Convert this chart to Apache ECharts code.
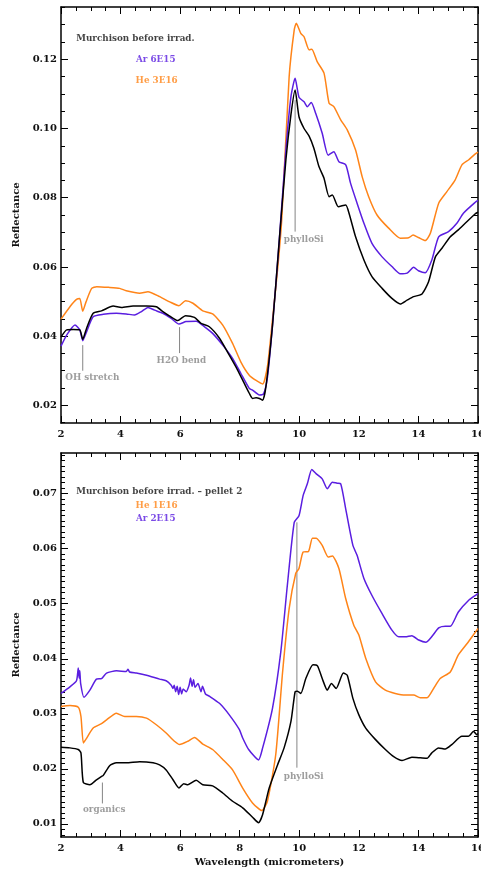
<!DOCTYPE html>
<html>
<head>
<meta charset="utf-8">
<script src="https://cdn.jsdelivr.net/npm/echarts@6/dist/echarts.min.js"></script>
<style>
  html, body { margin: 0; padding: 0; background: #fff; }
  #main { width: 481px; height: 869px; }
</style>
</head>
<body>
<div id="main"></div>
<script>
// ---- top panel: Murchison before irradiation, Ar 6E15, He 3E16 ----
var topBlackWl = [2.0, 2.19, 2.41, 2.63, 2.73, 2.86, 3.08, 3.36, 3.75, 4.03, 4.42, 4.87, 5.2, 5.42, 5.65, 5.92, 6.18, 6.48, 6.7, 6.98, 7.32, 7.65, 7.93, 8.15, 8.32, 8.43, 8.55, 8.66, 8.77, 8.88, 9.1, 9.32, 9.55, 9.72, 9.86, 9.99, 10.16, 10.33, 10.49, 10.66, 10.83, 11.0, 11.11, 11.31, 11.56, 11.67, 11.89, 12.17, 12.44, 12.78, 13.11, 13.39, 13.62, 13.84, 14.12, 14.34, 14.57, 14.79, 15.07, 15.34, 15.57, 15.9, 16.0];
var topBlackR = [0.0397, 0.0418, 0.0419, 0.0418, 0.0391, 0.0423, 0.0466, 0.0473, 0.0487, 0.0483, 0.0487, 0.0487, 0.0485, 0.0471, 0.0458, 0.0445, 0.0459, 0.0454, 0.0437, 0.0427, 0.0394, 0.0345, 0.0302, 0.0264, 0.0235, 0.0220, 0.0222, 0.0220, 0.0215, 0.0254, 0.0430, 0.0668, 0.0909, 0.1040, 0.1111, 0.1034, 0.1000, 0.0978, 0.0943, 0.0890, 0.0856, 0.0803, 0.0808, 0.0774, 0.0779, 0.0755, 0.0687, 0.0620, 0.0572, 0.0538, 0.0509, 0.0493, 0.0504, 0.0514, 0.0522, 0.0557, 0.0629, 0.0654, 0.0687, 0.0707, 0.0726, 0.0753, 0.0758];

var topArWl = [2.0, 2.19, 2.47, 2.63, 2.73, 2.86, 3.08, 3.42, 3.86, 4.19, 4.47, 4.7, 4.92, 5.14, 5.42, 5.7, 5.96, 6.2, 6.54, 6.82, 7.09, 7.43, 7.76, 8.04, 8.32, 8.43, 8.66, 8.8, 8.93, 9.1, 9.32, 9.55, 9.72, 9.86, 9.99, 10.16, 10.27, 10.4, 10.55, 10.77, 10.97, 11.16, 11.33, 11.56, 11.72, 11.94, 12.17, 12.44, 12.78, 13.11, 13.39, 13.62, 13.84, 14.0, 14.23, 14.45, 14.68, 15.01, 15.29, 15.51, 15.9, 16.0];
var topArR = [0.0371, 0.0403, 0.0432, 0.0418, 0.0387, 0.0413, 0.0456, 0.0463, 0.0466, 0.0464, 0.0461, 0.0471, 0.0483, 0.0475, 0.0466, 0.0451, 0.0435, 0.0442, 0.0443, 0.0427, 0.0408, 0.0374, 0.0336, 0.0292, 0.0249, 0.0244, 0.0230, 0.0233, 0.0280, 0.0430, 0.0668, 0.0938, 0.1092, 0.1145, 0.1090, 0.1077, 0.1063, 0.1075, 0.1044, 0.0986, 0.0923, 0.0933, 0.0904, 0.0895, 0.0842, 0.0784, 0.0726, 0.0668, 0.0629, 0.0601, 0.0580, 0.0582, 0.0599, 0.0589, 0.0583, 0.0620, 0.0687, 0.0702, 0.0726, 0.0755, 0.0786, 0.0792];

var topHeWl = [2.0, 2.3, 2.52, 2.63, 2.73, 2.84, 3.03, 3.2, 3.6, 3.97, 4.19, 4.64, 4.92, 5.31, 5.65, 5.96, 6.18, 6.43, 6.76, 7.09, 7.43, 7.76, 8.04, 8.32, 8.55, 8.77, 8.93, 9.1, 9.27, 9.41, 9.66, 9.83, 9.9, 10.05, 10.16, 10.33, 10.42, 10.6, 10.83, 11.0, 11.16, 11.39, 11.61, 11.89, 12.11, 12.33, 12.61, 13.0, 13.39, 13.67, 13.82, 14.0, 14.23, 14.4, 14.68, 14.95, 15.23, 15.46, 15.68, 15.9, 16.0];
var topHeR = [0.0449, 0.0485, 0.0506, 0.0509, 0.0472, 0.0499, 0.0538, 0.0543, 0.0541, 0.0538, 0.0531, 0.0524, 0.0528, 0.0514, 0.0499, 0.0488, 0.0502, 0.0495, 0.0473, 0.0464, 0.0432, 0.0379, 0.0325, 0.0287, 0.0272, 0.0262, 0.0312, 0.0447, 0.0591, 0.0736, 0.1150, 0.1285, 0.1304, 0.1275, 0.1265, 0.1227, 0.1229, 0.1193, 0.1160, 0.1073, 0.1063, 0.1025, 0.0996, 0.0938, 0.0861, 0.0803, 0.0750, 0.0712, 0.0683, 0.0684, 0.0692, 0.0685, 0.0676, 0.0697, 0.0784, 0.0817, 0.0851, 0.0895, 0.0909, 0.0926, 0.0932];

// ---- bottom panel: pellet 2, He 1E16, Ar 2E15 ----
var botBlackWl = [2.0, 2.3, 2.58, 2.67, 2.75, 2.97, 3.19, 3.36, 3.42, 3.64, 3.86, 4.19, 4.64, 5.09, 5.31, 5.53, 5.76, 5.96, 6.12, 6.26, 6.54, 6.76, 7.09, 7.43, 7.76, 8.1, 8.43, 8.63, 8.77, 8.99, 9.27, 9.49, 9.72, 9.86, 9.94, 10.05, 10.22, 10.46, 10.61, 10.77, 10.94, 11.08, 11.24, 11.48, 11.61, 11.8, 12.0, 12.23, 12.56, 12.89, 13.17, 13.45, 13.78, 14.06, 14.29, 14.45, 14.68, 14.9, 15.12, 15.46, 15.68, 15.85, 15.96, 16.0];
var botBlackR = [0.0239, 0.0238, 0.0235, 0.0229, 0.0175, 0.0171, 0.0180, 0.0186, 0.0188, 0.0206, 0.0211, 0.0211, 0.0213, 0.0211, 0.0207, 0.0198, 0.0180, 0.0165, 0.0173, 0.0171, 0.0179, 0.0171, 0.0169, 0.0156, 0.0141, 0.0129, 0.0112, 0.0102, 0.0117, 0.0165, 0.0207, 0.0238, 0.0286, 0.0340, 0.0341, 0.0337, 0.0364, 0.0389, 0.0387, 0.0364, 0.0343, 0.0355, 0.0346, 0.0374, 0.0370, 0.0328, 0.0298, 0.0274, 0.0253, 0.0235, 0.0222, 0.0215, 0.0221, 0.0220, 0.0219, 0.0229, 0.0238, 0.0236, 0.0244, 0.0259, 0.0259, 0.0268, 0.0262, 0.0264];

var botHeWl = [2.0, 2.3, 2.58, 2.67, 2.75, 2.84, 3.08, 3.36, 3.53, 3.86, 4.14, 4.53, 4.87, 5.2, 5.53, 5.81, 5.98, 6.26, 6.48, 6.76, 7.09, 7.43, 7.76, 8.1, 8.43, 8.74, 8.93, 9.21, 9.44, 9.66, 9.88, 9.99, 10.13, 10.31, 10.44, 10.57, 10.77, 10.97, 11.11, 11.33, 11.56, 11.83, 12.0, 12.23, 12.56, 12.89, 13.22, 13.56, 13.84, 14.06, 14.29, 14.51, 14.73, 15.07, 15.34, 15.68, 15.96, 16.0];
var botHeR = [0.0313, 0.0315, 0.0312, 0.0295, 0.0247, 0.0254, 0.0274, 0.0282, 0.0289, 0.0301, 0.0295, 0.0295, 0.0292, 0.0280, 0.0265, 0.0250, 0.0244, 0.0250, 0.0257, 0.0245, 0.0235, 0.0217, 0.0198, 0.0165, 0.0138, 0.0124, 0.0141, 0.0226, 0.0376, 0.0491, 0.0555, 0.0564, 0.0594, 0.0595, 0.0619, 0.0619, 0.0606, 0.0585, 0.0587, 0.0564, 0.0509, 0.0461, 0.0443, 0.0401, 0.0358, 0.0343, 0.0337, 0.0334, 0.0334, 0.0329, 0.0329, 0.0346, 0.0364, 0.0376, 0.0407, 0.0431, 0.0452, 0.0455];

var botArWl = [2.0, 2.3, 2.52, 2.58, 2.61, 2.63, 2.66, 2.77, 2.97, 3.19, 3.36, 3.53, 3.86, 4.19, 4.25, 4.3, 4.53, 4.87, 5.31, 5.53, 5.7, 5.76, 5.8, 5.85, 5.9, 5.95, 6.0, 6.05, 6.1, 6.2, 6.3, 6.35, 6.4, 6.45, 6.5, 6.6, 6.7, 6.75, 6.85, 6.98, 7.32, 7.65, 7.99, 8.1, 8.3, 8.63, 8.77, 9.1, 9.38, 9.6, 9.83, 9.99, 10.13, 10.27, 10.42, 10.57, 10.77, 10.94, 11.11, 11.27, 11.39, 11.56, 11.8, 11.94, 12.17, 12.44, 12.78, 13.11, 13.34, 13.56, 13.78, 14.01, 14.25, 14.68, 14.9, 15.07, 15.34, 15.68, 15.96, 16.0];
var botArR = [0.0337, 0.0349, 0.0360, 0.0383, 0.0365, 0.0378, 0.0355, 0.0330, 0.0343, 0.0363, 0.0364, 0.0374, 0.0378, 0.0377, 0.0381, 0.0376, 0.0374, 0.0370, 0.0363, 0.0360, 0.0352, 0.0346, 0.0352, 0.0340, 0.0350, 0.0335, 0.0348, 0.0336, 0.0345, 0.0340, 0.0352, 0.0365, 0.0350, 0.0362, 0.0348, 0.0355, 0.0340, 0.0350, 0.0336, 0.0332, 0.0319, 0.0298, 0.0271, 0.0256, 0.0235, 0.0216, 0.0238, 0.0310, 0.0413, 0.0534, 0.0648, 0.0660, 0.0697, 0.0718, 0.0744, 0.0736, 0.0727, 0.0709, 0.0721, 0.0719, 0.0718, 0.0672, 0.0606, 0.0588, 0.0546, 0.0515, 0.0482, 0.0452, 0.0440, 0.0440, 0.0442, 0.0434, 0.0430, 0.0456, 0.0459, 0.0459, 0.0485, 0.0506, 0.0517, 0.0519];

// axis ticks
var xTicks = [2, 4, 6, 8, 10, 12, 14, 16];
var topYTicks = [0.02, 0.04, 0.06, 0.08, 0.10, 0.12];
var botYTicks = [0.01, 0.02, 0.03, 0.04, 0.05, 0.06, 0.07];
var topYRange = [0.0149, 0.1351];
var botYRange = [0.0076, 0.0774];

function minorTicks(lo, hi, step) {
  var out = [];
  var k = Math.ceil(lo / step - 1e-9);
  for (; k * step <= hi + 1e-9; k++) out.push(+(k * step).toFixed(4));
  return out;
}
var topYMinor = minorTicks(topYRange[0], topYRange[1], 0.005);
var botYMinor = minorTicks(botYRange[0], botYRange[1], 0.001);

function zip(a, b) {
  return a.map(function (x, i) { return [x, b[i]]; });
}

var FONT = 'DejaVu Serif';
var PURPLE = '#5a1ee0';
var ORANGE = '#ff8418';
var GREY = '#858585';

function xAxes(grid, showName) {
  var base = {
    gridIndex: grid, type: 'value', min: xTicks[0], max: xTicks[xTicks.length - 1], interval: 2,
    axisLine: { lineStyle: { color: '#000', width: 1.5 } },
    axisTick: { inside: true, length: 7, lineStyle: { color: '#000', width: 1 } },
    minorTick: { show: true, splitNumber: 4, length: 4, lineStyle: { color: '#000', width: 1 } },
    splitLine: { show: false },
    minorSplitLine: { show: false }
  };
  var bottom = Object.assign({}, base, {
    position: 'bottom',
    axisLabel: { fontFamily: FONT, fontWeight: 'bold', fontSize: 10, color: '#111', margin: 6, hideOverlap: false }
  });
  if (showName) {
    bottom.name = 'Wavelength (micrometers)';
    bottom.nameLocation = 'middle';
    bottom.nameGap = 20;
    bottom.nameTextStyle = { fontFamily: FONT, fontWeight: 'bold', fontSize: 10, color: '#111' };
  }
  var top = Object.assign({}, base, { position: 'top', axisLabel: { show: false } });
  return [bottom, top];
}

function yAxes(grid, range, majors, minors) {
  function ax(pos, vals, len, withLine, withLabel) {
    var a = {
      gridIndex: grid, type: 'value', position: pos, min: range[0], max: range[1],
      axisLine: { show: withLine, lineStyle: { color: '#000', width: 1.5 } },
      axisTick: { inside: true, length: len, customValues: vals, lineStyle: { color: '#000', width: 1 } },
      splitLine: { show: false },
      axisLabel: { show: false }
    };
    if (withLabel) {
      a.axisLabel = {
        show: true, customValues: majors, margin: 4,
        fontFamily: FONT, fontWeight: 'bold', fontSize: 10, color: '#111',
        formatter: function (v) { return v.toFixed(2); }
      };
      a.name = 'Reflectance';
      a.nameLocation = 'middle';
      a.nameGap = 32;
      a.nameTextStyle = { fontFamily: FONT, fontWeight: 'bold', fontSize: 10, color: '#111' };
    }
    return a;
  }
  return [
    ax('left', majors, 7, true, true),
    ax('left', minors, 4, false, false),
    ax('right', majors, 7, true, false),
    ax('right', minors, 4, false, false)
  ];
}

function curve(xi, yi, wl, r, color) {
  return {
    type: 'line', xAxisIndex: xi, yAxisIndex: yi, data: zip(wl, r),
    showSymbol: false, symbol: 'none', smooth: 0.2, silent: true,
    lineStyle: { color: color, width: 1.5 }, z: 3
  };
}

function marker(xi, yi, wl, v1, v2) {
  return {
    type: 'line', xAxisIndex: xi, yAxisIndex: yi, data: [[wl, v1], [wl, v2]],
    symbol: 'none', silent: true, lineStyle: { color: GREY, width: 1 }, z: 2
  };
}

function note(xi, yi, wl, v, text, color, align) {
  return {
    type: 'scatter', xAxisIndex: xi, yAxisIndex: yi, data: [[wl, v]],
    symbolSize: 0, silent: true, z: 5,
    label: {
      show: true, position: 'inside', formatter: text, align: align || 'center', verticalAlign: 'middle',
      fontFamily: FONT, fontWeight: 'bold', fontSize: 8.8, color: color
    }
  };
}

var chart = echarts.init(document.getElementById('main'), null, { renderer: 'canvas' });

var option = {
  animation: false,
  backgroundColor: '#fff',
  grid: [
    { left: 61, top: 7, width: 417, height: 416, outerBoundsMode: 'none', containLabel: false },
    { left: 61, top: 453, width: 417, height: 384, outerBoundsMode: 'none', containLabel: false }
  ],
  xAxis: xAxes(0, false).concat(xAxes(1, true)),
  yAxis: yAxes(0, topYRange, topYTicks, topYMinor).concat(yAxes(1, botYRange, botYTicks, botYMinor)),
  series: [
    curve(0, 0, topHeWl, topHeR, ORANGE),
    curve(0, 0, topArWl, topArR, PURPLE),
    curve(0, 0, topBlackWl, topBlackR, '#000'),
    marker(0, 0, 2.73, 0.0374, 0.0300),
    marker(0, 0, 5.98, 0.0426, 0.0351),
    marker(0, 0, 9.86, 0.1082, 0.0702),
    note(0, 0, 3.05, 0.0281, 'OH stretch', GREY),
    note(0, 0, 6.04, 0.0329, 'H2O bend', GREY),
    note(0, 0, 10.15, 0.0678, 'phylloSi', GREY),
    note(0, 0, 2.51, 0.1259, 'Murchison before irrad.', '#111', 'left'),
    note(0, 0, 5.18, 0.1198, 'Ar 6E15', PURPLE),
    note(0, 0, 5.21, 0.1138, 'He 3E16', ORANGE),

    curve(2, 4, botArWl, botArR, PURPLE),
    curve(2, 4, botHeWl, botHeR, ORANGE),
    curve(2, 4, botBlackWl, botBlackR, '#000'),
    marker(2, 4, 9.92, 0.0648, 0.0202),
    marker(2, 4, 3.39, 0.0175, 0.0137),
    note(2, 4, 10.15, 0.0185, 'phylloSi', GREY),
    note(2, 4, 3.45, 0.0126, 'organics', GREY),
    note(2, 4, 2.51, 0.0704, 'Murchison before irrad. \u2013 pellet 2', '#111', 'left'),
    note(2, 4, 5.21, 0.0679, 'He 1E16', ORANGE),
    note(2, 4, 5.18, 0.0655, 'Ar 2E15', PURPLE)
  ]
};

chart.setOption(option);
</script>
</body>
</html>
